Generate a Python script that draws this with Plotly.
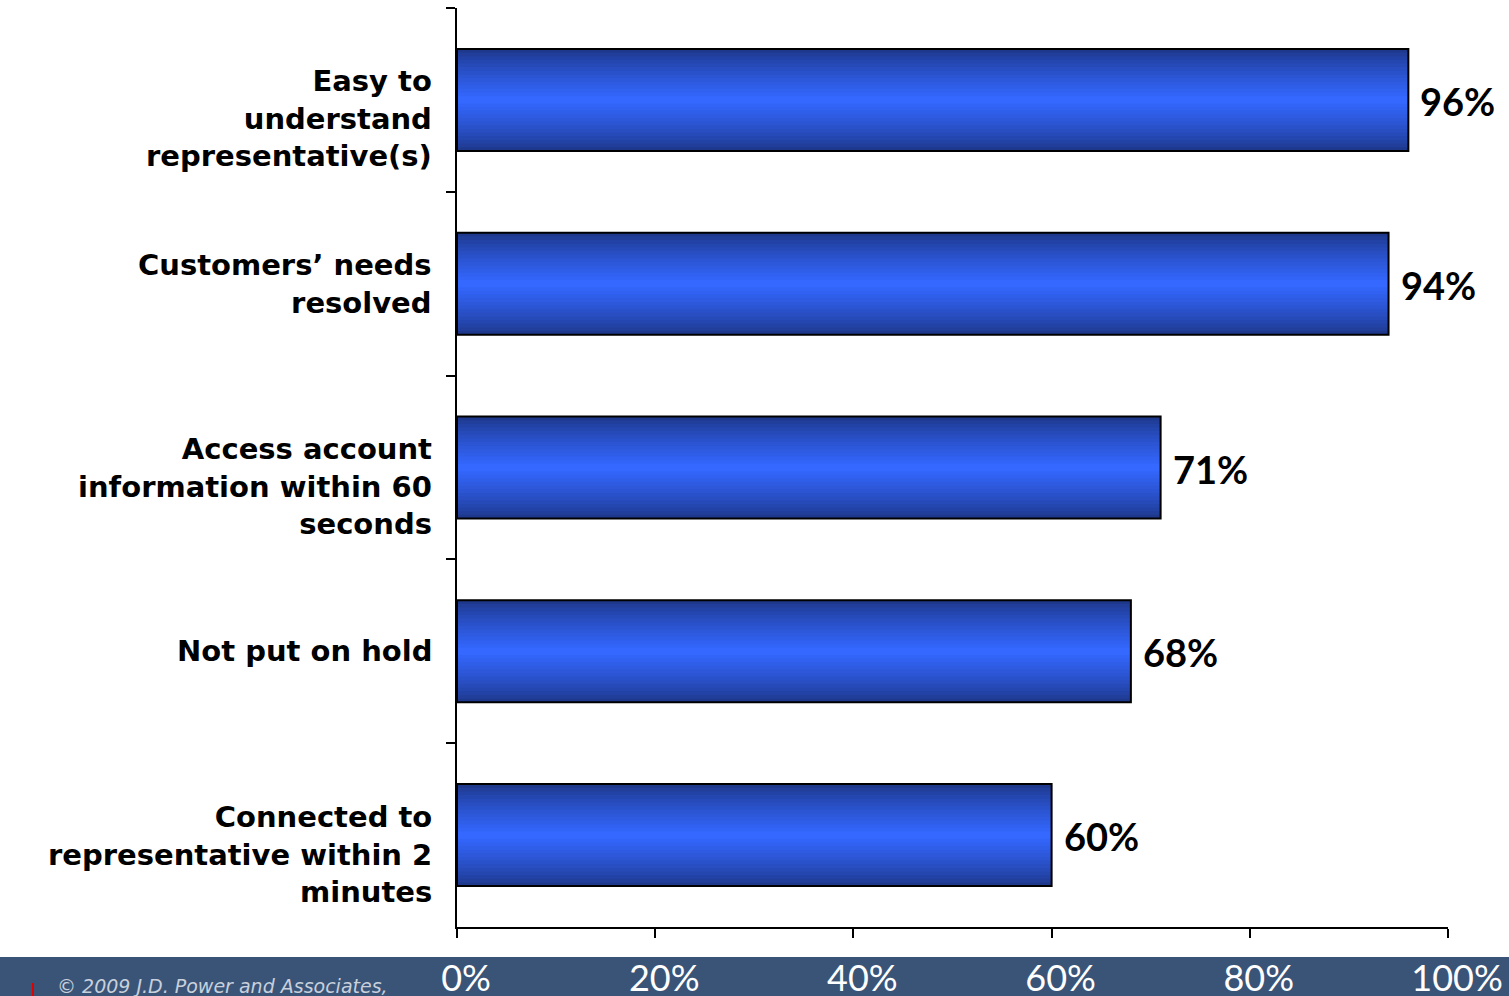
import plotly.graph_objects as go

categories = [
    "Easy to<br>understand<br>representative(s)",
    "Customers’ needs<br>resolved",
    "Access account<br>information within 60<br>seconds",
    "Not put on hold",
    "Connected to<br>representative within 2<br>minutes",
]
values = [96, 94, 71, 68, 60]
value_labels = ["96%", "94%", "71%", "68%", "60%"]
x_tickvals = [0, 20, 40, 60, 80, 100]
x_ticktext = ["0%", "20%", "40%", "60%", "80%", "100%"]

W = 0.555
N = 14
dark = (30, 56, 140)
bright = (52, 104, 255)

fig = go.Figure()
for k in range(N):
    t = (k / (N - 1)) ** 0.8
    c = tuple(int(dark[i] + (bright[i] - dark[i]) * t) for i in range(3))
    fig.add_trace(go.Bar(
        y=categories, x=values, orientation="h",
        width=W * (1 - k / N),
        marker=dict(color="rgb(%d,%d,%d)" % c, line=dict(width=0)),
        hoverinfo="skip", showlegend=False,
    ))
fig.add_trace(go.Bar(
    y=categories, x=values, orientation="h", width=W,
    marker=dict(color="rgba(0,0,0,0)", line=dict(color="black", width=2)),
    showlegend=False,
))

annotations = []
# value labels
for cat, v, lab in zip(categories, values, value_labels):
    annotations.append(dict(
        x=v, y=cat, xref="x", yref="y", text=lab, showarrow=False,
        xanchor="left", yanchor="middle", xshift=10, yshift=-1,
        font=dict(family="Lato", size=38, color="black", weight="bold"),
    ))
# category labels
for cat in categories:
    nlines = cat.count("<br>") + 1
    annotations.append(dict(
        x=0, y=cat, xref="paper", yref="y", text=cat, showarrow=False,
        xanchor="right", yanchor="middle", align="right", xshift=-23,
        yshift=-19 if nlines == 3 else 0,
        font=dict(family="DejaVu Sans", size=29, color="black", weight="bold"),
    ))
annotations.append(dict(
    text="© 2009 J.D. Power and Associates,", xref="paper", yref="paper",
    x=-402 / 991, y=-46 / 919, xanchor="left", yanchor="top",
    showarrow=False,
    font=dict(family="DejaVu Sans", size=19, color="#C8D0DC", style="italic"),
))

fig.update_layout(
    barmode="overlay",
    width=1509, height=996,
    margin=dict(l=457, r=61, t=8, b=69),
    paper_bgcolor="white", plot_bgcolor="white",
    xaxis=dict(
        range=[0, 100], tickvals=x_tickvals, ticktext=x_ticktext,
        showgrid=False, zeroline=False, automargin=False,
        showline=True, linecolor="black", linewidth=2,
        ticks="outside", ticklen=9, tickwidth=2, tickcolor="black",
        tickfont=dict(family="Lato", size=36, color="white"),
        ticklabelstandoff=10, ticklabelshift=9,
    ),
    yaxis=dict(
        categoryorder="array", categoryarray=categories,
        autorange="reversed", tickson="boundaries",
        showticklabels=False, automargin=False,
        showgrid=False, zeroline=False,
        showline=True, linecolor="black", linewidth=2,
        ticks="outside", ticklen=9, tickwidth=2, tickcolor="black",
    ),
    shapes=[
        dict(type="rect", xref="paper", yref="paper",
             x0=-457 / 991, x1=1052 / 991, y0=-69 / 919, y1=-30 / 919,
             fillcolor="#3A5478", line=dict(width=0), layer="below"),
        dict(type="rect", xref="paper", yref="paper",
             x0=-425 / 991, x1=-423 / 991, y0=-69 / 919, y1=-56 / 919,
             fillcolor="#E00000", line=dict(width=0), layer="below"),
    ],
    annotations=annotations,
)

fig.write_html("out.html")
